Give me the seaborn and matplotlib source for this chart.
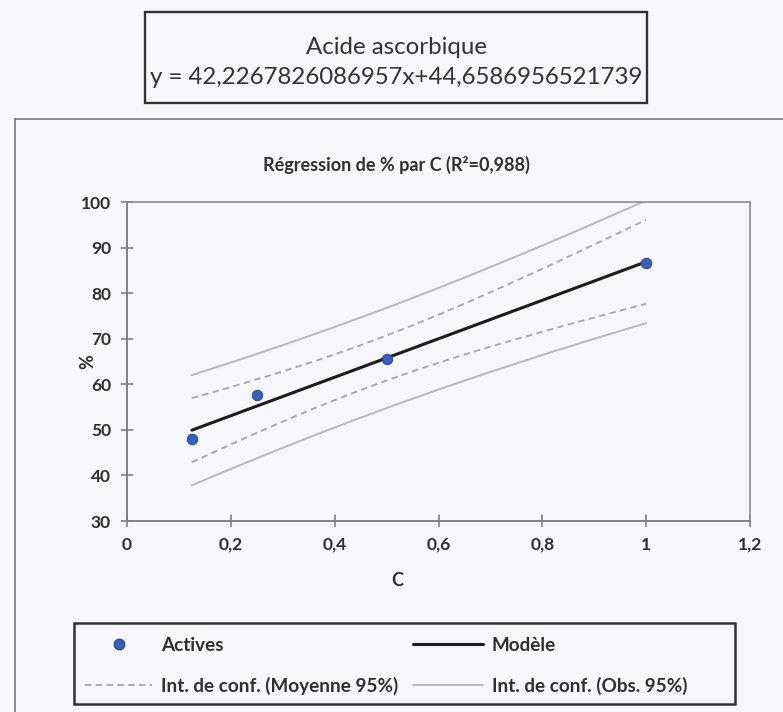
import numpy as np
import pandas as pd
import seaborn as sns
import matplotlib
matplotlib.use("Agg")
import matplotlib.pyplot as plt
from matplotlib.lines import Line2D
from matplotlib.patches import Rectangle

# ---- data ----
conc = [0.125, 0.25, 0.5, 1.0]          # C
pct = [47.9, 57.7, 65.6, 86.6]           # %
box_title = "Acide ascorbique"
equation = "y = 42,2267826086957x+44,6586956521739"
chart_title = "Régression de % par C (R²=0,988)"
x_ticks = [0, 0.2, 0.4, 0.6, 0.8, 1.0, 1.2]
x_tick_labels = ["0", "0,2", "0,4", "0,6", "0,8", "1", "1,2"]
y_ticks = [30, 40, 50, 60, 70, 80, 90, 100]
legend_labels = ["Actives", "Modèle", "Int. de conf. (Moyenne 95%)", "Int. de conf. (Obs. 95%)"]
t_975_df2 = 4.303  # Student t, 95 %, 2 degrees of freedom

sns.set_theme(style="white")
plt.rcParams["font.family"] = ["Lato", "DejaVu Sans"]

bg = "#f6f7fb"
txt = "#2f2f2f"
fig = plt.figure(figsize=(7.83, 7.12), dpi=100, facecolor=bg)
W, H = 783, 712

def fx(px):
    return px / W

def fy(py):
    return 1 - py / H

# ---- regression and confidence bands (from the data) ----
x = np.array(conc)
y = np.array(pct)
n = len(x)
b, a = np.polyfit(x, y, 1)
resid = y - (a + b * x)
s = np.sqrt(np.sum(resid ** 2) / (n - 2))
sxx = np.sum((x - x.mean()) ** 2)
xg = np.linspace(x.min(), x.max(), 200)
yg = a + b * xg
se_mean = s * np.sqrt(1 / n + (xg - x.mean()) ** 2 / sxx)
se_obs = s * np.sqrt(1 + 1 / n + (xg - x.mean()) ** 2 / sxx)
bands = pd.DataFrame({
    "x": xg,
    "model": yg,
    "m_lo": yg - t_975_df2 * se_mean,
    "m_hi": yg + t_975_df2 * se_mean,
    "o_lo": yg - t_975_df2 * se_obs,
    "o_hi": yg + t_975_df2 * se_obs,
})
pts = pd.DataFrame({"C": conc, "%": pct})

# ---- axes ----
ax = fig.add_axes([fx(127), fy(521), fx(750) - fx(127), fy(202) - fy(521)])
ax.set_facecolor(bg)

obs_col = "#b8b8b8"
mean_col = "#a6a6a6"
for col in ["o_lo", "o_hi"]:
    sns.lineplot(data=bands, x="x", y=col, ax=ax, color=obs_col, lw=1.4, zorder=2)
for col in ["m_lo", "m_hi"]:
    sns.lineplot(data=bands, x="x", y=col, ax=ax, color=mean_col, lw=1.3,
                 zorder=2).lines[-1].set_dashes((3.5, 2.5))
sns.lineplot(data=bands, x="x", y="model", ax=ax, color="#1c1c1c", lw=2.2, zorder=3)
sns.scatterplot(data=pts, x="C", y="%", ax=ax, color="#3d5fb3", s=55,
                edgecolor="#2a4a9a", linewidth=0.8, zorder=4)

ax.set_xlim(0, 1.2)
ax.set_ylim(30, 100)
ax.set_xticks(x_ticks)
ax.set_xticklabels(x_tick_labels)
ax.set_yticks(y_ticks)
ax.tick_params(axis="both", direction="inout", length=9, width=1.2, color="#808080",
               labelsize=12.5, labelcolor=txt, pad=7)
for lab in ax.get_xticklabels() + ax.get_yticklabels():
    lab.set_fontweight("bold")
ax.tick_params(axis="y", left=True)
ax.tick_params(axis="x", bottom=True)
for side in ["left", "bottom"]:
    ax.spines[side].set_color("#808080")
    ax.spines[side].set_linewidth(1.4)
for side in ["top", "right"]:
    ax.spines[side].set_color("#8c8c8c")
    ax.spines[side].set_linewidth(1.2)
ax.set_xlabel("")
ax.set_ylabel("")

fig.text(fx(88), fy(362), "%", rotation=90, ha="center", va="center",
         fontsize=13, fontweight="bold", color=txt)
fig.text(fx(397), fy(580), "C", ha="center", va="center",
         fontsize=13, fontweight="bold", color=txt)
fig.text(fx(396), fy(165), chart_title, ha="center", va="center",
         fontsize=13, fontweight="bold", color=txt)

# ---- top box ----
fig.patches.append(Rectangle((fx(145), fy(103)), fx(647) - fx(145), fy(12) - fy(103),
                             transform=fig.transFigure, fill=False,
                             edgecolor="#333333", lw=1.7))
fig.text(fx(396), fy(48), box_title, ha="center", va="center",
         fontsize=17.3, color="#333333")
fig.text(fx(396), fy(78), equation, ha="center", va="center",
         fontsize=17.3, color="#333333")

# ---- outer chart frame ----
fig.lines.append(Line2D([fx(15), fx(15)], [fy(119), 0], transform=fig.transFigure,
                        color="#777777", lw=1.2))
fig.lines.append(Line2D([fx(15), 1], [fy(119), fy(119)], transform=fig.transFigure,
                        color="#777777", lw=1.2))

# ---- legend ----
fig.patches.append(Rectangle((fx(74), fy(704)), fx(735) - fx(74), fy(623) - fy(704),
                             transform=fig.transFigure, fill=False,
                             edgecolor="#333333", lw=1.8))
h_pts = Line2D([], [], ls="none", marker="o", ms=7.5, color="#3d5fb3", mec="#2a4a9a")
h_mod = Line2D([], [], color="#1c1c1c", lw=2.2)
h_mean = Line2D([], [], color=mean_col, lw=1.3, dashes=(3.5, 2.5))
h_obs = Line2D([], [], color=obs_col, lw=1.4)
leg_kw = dict(frameon=False, borderpad=0, borderaxespad=0,
              labelspacing=1.22, handletextpad=0.47, loc="upper left",
              bbox_transform=fig.transFigure, prop={"weight": "bold", "size": 13.6})
leg1 = fig.legend([h_pts, h_mean], [legend_labels[0], legend_labels[2]],
                  bbox_to_anchor=(fx(85), fy(637)), handlelength=3.55, **leg_kw)
leg2 = fig.legend([h_mod, h_obs], [legend_labels[1], legend_labels[3]],
                  bbox_to_anchor=(fx(413), fy(637)), handlelength=3.7, **leg_kw)
for leg in (leg1, leg2):
    for t in leg.get_texts():
        t.set_color(txt)

fig.savefig("out.png", dpi=100, facecolor=bg)
